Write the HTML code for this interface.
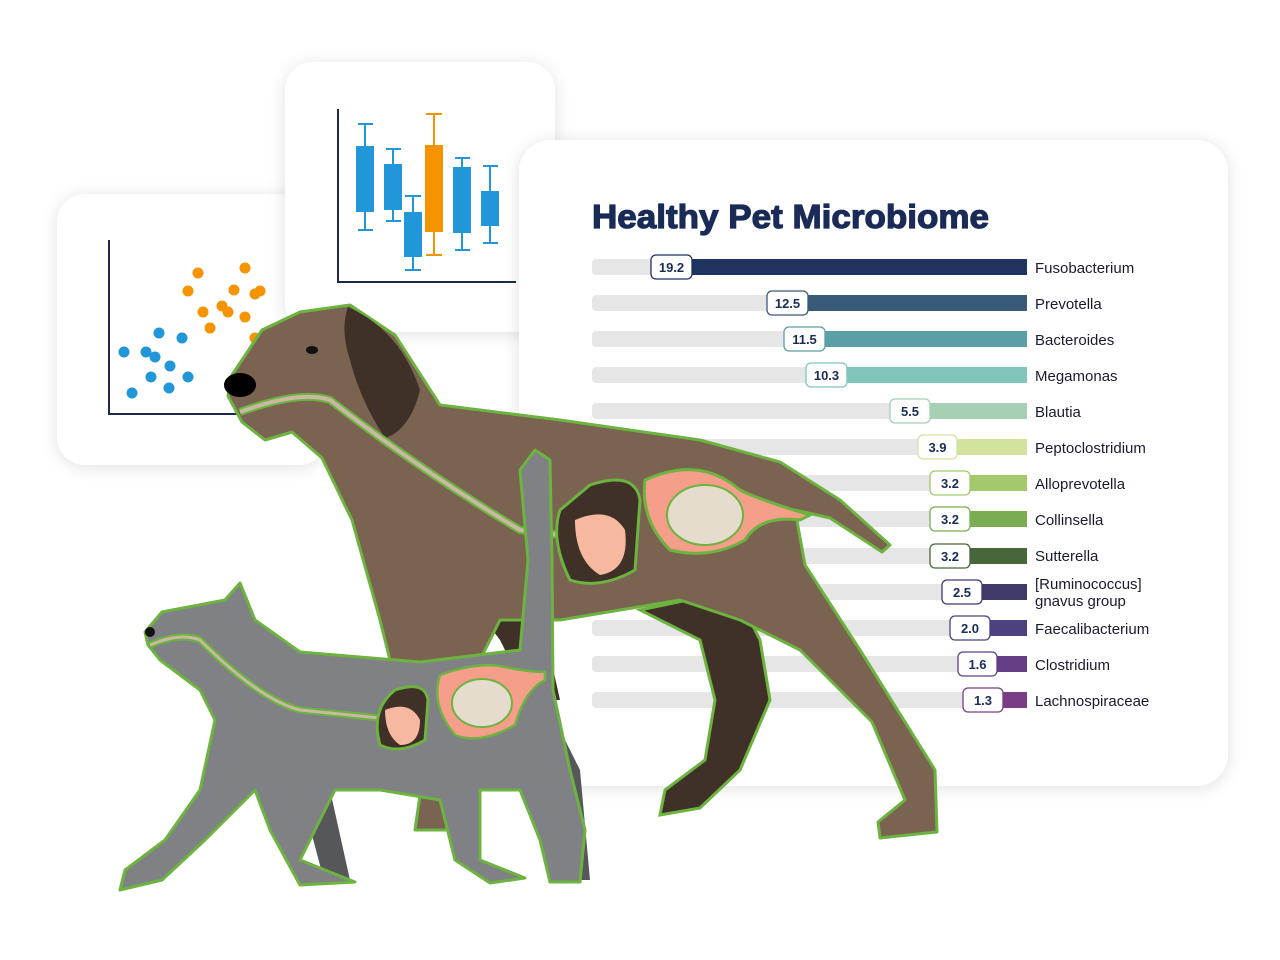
<!DOCTYPE html>
<html><head><meta charset="utf-8"><style>
html,body{margin:0;padding:0;background:#fff;}
svg{display:block;font-family:"Liberation Sans",sans-serif;}
</style></head><body>
<svg width="1280" height="960" viewBox="0 0 1280 960" xmlns="http://www.w3.org/2000/svg">
<defs>
<filter id="sh" x="-10%" y="-10%" width="120%" height="120%"><feDropShadow dx="0" dy="2" stdDeviation="8" flood-color="#000" flood-opacity="0.12"/></filter>
</defs>
<rect width="1280" height="960" fill="#fff"/>
<!-- scatter card -->
<rect x="57" y="194" width="270" height="271" rx="28" fill="#fff" filter="url(#sh)"/>
<path d="M109 240 V414 H240" stroke="#1b2a4a" stroke-width="2" fill="none"/>
<g fill="#2196d8">
<circle cx="124" cy="352" r="5.5"/><circle cx="146" cy="352" r="5.5"/><circle cx="155" cy="357" r="5.5"/><circle cx="159" cy="333" r="5.5"/><circle cx="182" cy="338" r="5.5"/><circle cx="170" cy="366" r="5.5"/><circle cx="151" cy="377" r="5.5"/><circle cx="188" cy="377" r="5.5"/><circle cx="132" cy="393" r="5.5"/><circle cx="169" cy="388" r="5.5"/></g>
<g fill="#f59300">
<circle cx="198" cy="273" r="5.5"/><circle cx="245" cy="268" r="5.5"/><circle cx="188" cy="291" r="5.5"/><circle cx="234" cy="290" r="5.5"/><circle cx="255" cy="294" r="5.5"/><circle cx="260" cy="291" r="5.5"/><circle cx="203" cy="312" r="5.5"/><circle cx="222" cy="306" r="5.5"/><circle cx="228" cy="312" r="5.5"/><circle cx="245" cy="317" r="5.5"/><circle cx="210" cy="328" r="5.5"/><circle cx="255" cy="338" r="5.5"/></g>
<!-- box card -->
<rect x="285" y="62" width="270" height="270" rx="28" fill="#fff" filter="url(#sh)"/>
<path d="M338 109 V282 H516" stroke="#1b2a4a" stroke-width="2" fill="none"/>
<g stroke="#2196d8" stroke-width="2" fill="#2196d8">
<path d="M365 124 V230 M358 124 H373 M358 230 H373"/><rect x="357" y="147" width="16" height="64"/>
<path d="M393 149 V221 M386 149 H401 M386 221 H401"/><rect x="385" y="165" width="16" height="44"/>
<path d="M413 196 V270 M405 196 H421 M405 270 H421"/><rect x="405" y="213" width="16" height="43"/>
<path d="M462 158 V250 M455 158 H470 M455 250 H470"/><rect x="454" y="168" width="16" height="64"/>
<path d="M490 166 V243 M483 166 H498 M483 243 H498"/><rect x="482" y="192" width="16" height="33"/>
</g>
<g stroke="#f59300" stroke-width="2" fill="#f59300"><path d="M434 114 V255 M426 114 H442 M426 255 H442"/><rect x="426" y="146" width="16" height="85"/></g>
<!-- main card -->
<rect x="519" y="140" width="709" height="646" rx="32" fill="#fff" filter="url(#sh)"/>
<text x="592" y="228" font-size="33" font-weight="bold" fill="#1a2b57" stroke="#1a2b57" stroke-width="1.2" textLength="397" lengthAdjust="spacingAndGlyphs">Healthy Pet Microbiome</text>
<g>
<rect x="592" y="259" width="435" height="16" rx="4" fill="#e6e6e6"/><rect x="692" y="259" width="335" height="16" fill="#1f3360"/>
<rect x="651" y="255" width="41" height="24" rx="5" fill="#fff" stroke="#1f3360" stroke-width="1.3"/><text x="671.5" y="272" font-size="13" font-weight="bold" fill="#1a2b57" text-anchor="middle">19.2</text><text x="1035" y="273" font-size="15" fill="#1a1a2e">Fusobacterium</text>

<rect x="592" y="295" width="435" height="16" rx="4" fill="#e6e6e6"/><rect x="808" y="295" width="219" height="16" fill="#3a5b78"/>
<rect x="767" y="291" width="41" height="24" rx="5" fill="#fff" stroke="#3a5b78" stroke-width="1.3"/><text x="787.5" y="308" font-size="13" font-weight="bold" fill="#1a2b57" text-anchor="middle">12.5</text><text x="1035" y="309" font-size="15" fill="#1a1a2e">Prevotella</text>

<rect x="592" y="331" width="435" height="16" rx="4" fill="#e6e6e6"/><rect x="825" y="331" width="202" height="16" fill="#5a9ea6"/>
<rect x="784" y="327" width="41" height="24" rx="5" fill="#fff" stroke="#5a9ea6" stroke-width="1.3"/><text x="804.5" y="344" font-size="13" font-weight="bold" fill="#1a2b57" text-anchor="middle">11.5</text><text x="1035" y="345" font-size="15" fill="#1a1a2e">Bacteroides</text>

<rect x="592" y="367" width="435" height="16" rx="4" fill="#e6e6e6"/><rect x="847" y="367" width="180" height="16" fill="#80c4bc"/>
<rect x="806" y="363" width="41" height="24" rx="5" fill="#fff" stroke="#80c4bc" stroke-width="1.3"/><text x="826.5" y="380" font-size="13" font-weight="bold" fill="#1a2b57" text-anchor="middle">10.3</text><text x="1035" y="381" font-size="15" fill="#1a1a2e">Megamonas</text>

<rect x="592" y="403" width="435" height="16" rx="4" fill="#e6e6e6"/><rect x="930" y="403" width="97" height="16" fill="#a7cfb4"/>
<rect x="890" y="399" width="40" height="24" rx="5" fill="#fff" stroke="#a7cfb4" stroke-width="1.3"/><text x="910" y="416" font-size="13" font-weight="bold" fill="#1a2b57" text-anchor="middle">5.5</text><text x="1035" y="417" font-size="15" fill="#1a1a2e">Blautia</text>

<rect x="592" y="439" width="435" height="16" rx="4" fill="#e6e6e6"/><rect x="957" y="439" width="70" height="16" fill="#d2e3a0"/>
<rect x="918" y="435" width="39" height="24" rx="5" fill="#fff" stroke="#d2e3a0" stroke-width="1.3"/><text x="937.5" y="452" font-size="13" font-weight="bold" fill="#1a2b57" text-anchor="middle">3.9</text><text x="1035" y="453" font-size="15" fill="#1a1a2e">Peptoclostridium</text>

<rect x="592" y="475" width="435" height="16" rx="4" fill="#e6e6e6"/><rect x="970" y="475" width="57" height="16" fill="#a3c96a"/>
<rect x="930" y="471" width="40" height="24" rx="5" fill="#fff" stroke="#a3c96a" stroke-width="1.3"/><text x="950" y="488" font-size="13" font-weight="bold" fill="#1a2b57" text-anchor="middle">3.2</text><text x="1035" y="489" font-size="15" fill="#1a1a2e">Alloprevotella</text>

<rect x="592" y="511" width="435" height="16" rx="4" fill="#e6e6e6"/><rect x="970" y="511" width="57" height="16" fill="#7aad52"/>
<rect x="930" y="507" width="40" height="24" rx="5" fill="#fff" stroke="#7aad52" stroke-width="1.3"/><text x="950" y="524" font-size="13" font-weight="bold" fill="#1a2b57" text-anchor="middle">3.2</text><text x="1035" y="525" font-size="15" fill="#1a1a2e">Collinsella</text>

<rect x="592" y="548" width="435" height="16" rx="4" fill="#e6e6e6"/><rect x="970" y="548" width="57" height="16" fill="#47673a"/>
<rect x="930" y="544" width="40" height="24" rx="5" fill="#fff" stroke="#47673a" stroke-width="1.3"/><text x="950" y="561" font-size="13" font-weight="bold" fill="#1a2b57" text-anchor="middle">3.2</text><text x="1035" y="561" font-size="15" fill="#1a1a2e">Sutterella</text>

<rect x="592" y="584" width="435" height="16" rx="4" fill="#e6e6e6"/><rect x="982" y="584" width="45" height="16" fill="#3e3a6c"/>
<rect x="942" y="580" width="40" height="24" rx="5" fill="#fff" stroke="#3e3a6c" stroke-width="1.3"/><text x="962" y="597" font-size="13" font-weight="bold" fill="#1a2b57" text-anchor="middle">2.5</text><text x="1035" y="589" font-size="15" fill="#1a1a2e">[Ruminococcus]</text><text x="1035" y="606" font-size="15" fill="#1a1a2e">gnavus group</text>

<rect x="592" y="620" width="435" height="16" rx="4" fill="#e6e6e6"/><rect x="990" y="620" width="37" height="16" fill="#4d4180"/>
<rect x="950" y="616" width="40" height="24" rx="5" fill="#fff" stroke="#4d4180" stroke-width="1.3"/><text x="970" y="633" font-size="13" font-weight="bold" fill="#1a2b57" text-anchor="middle">2.0</text><text x="1035" y="634" font-size="15" fill="#1a1a2e">Faecalibacterium</text>

<rect x="592" y="656" width="435" height="16" rx="4" fill="#e6e6e6"/><rect x="997" y="656" width="30" height="16" fill="#643f85"/>
<rect x="958" y="652" width="39" height="24" rx="5" fill="#fff" stroke="#643f85" stroke-width="1.3"/><text x="977.5" y="669" font-size="13" font-weight="bold" fill="#1a2b57" text-anchor="middle">1.6</text><text x="1035" y="670" font-size="15" fill="#1a1a2e">Clostridium</text>

<rect x="592" y="692" width="435" height="16" rx="4" fill="#e6e6e6"/><rect x="1003" y="692" width="24" height="16" fill="#7a3c85"/>
<rect x="963" y="688" width="40" height="24" rx="5" fill="#fff" stroke="#7a3c85" stroke-width="1.3"/><text x="983" y="705" font-size="13" font-weight="bold" fill="#1a2b57" text-anchor="middle">1.3</text><text x="1035" y="706" font-size="15" fill="#1a1a2e">Lachnospiraceae</text>
</g>
<!-- dog back legs (dark) -->
<path d="M640 610 L735 590 L760 640 L770 700 L740 770 L700 808 L660 815 L665 790 L705 760 L715 700 L700 640 Z" fill="#3f3127" stroke="#6cb33f" stroke-width="3"/>
<path d="M470 600 L540 610 L560 700 L530 700 L500 640 Z" fill="#3f3127"/>
<!-- dog body -->
<path d="M230 378 L262 330 L300 312 L350 305 L395 335 L440 405 L560 420 L700 440 L780 462 L840 500 L890 545 L882 552 L830 518 L795 510 L805 565 L860 650 L935 770 L937 832 L880 838 L878 822 L905 800 L872 722 L800 650 L740 620 L680 600 L620 610 L560 620 L500 620 L460 700 L470 800 L458 830 L415 830 L420 795 L400 700 L380 620 L352 520 L322 458 L292 432 L265 440 L242 422 L228 396 Z" fill="#7a6351" stroke="#6cb33f" stroke-width="3" stroke-linejoin="round"/>
<path d="M348 307 Q400 330 420 390 Q410 430 385 438 Q360 400 350 360 Q340 330 348 307 Z" fill="#3f3127"/>
<ellipse cx="312" cy="350" rx="6" ry="4" fill="#111"/>
<ellipse cx="240" cy="385" rx="16" ry="12" fill="#000"/>
<path d="M240 412 Q300 390 330 400 Q420 470 520 530 L560 535" stroke="#6cb33f" stroke-width="8" fill="none"/>
<path d="M240 412 Q300 390 330 400 Q420 470 520 530 L560 535" stroke="#c9b9a3" stroke-width="4" fill="none"/>
<path d="M590 485 Q635 470 640 500 L635 570 Q600 590 570 580 Q550 540 560 510 Z" fill="#3f3127" stroke="#6cb33f" stroke-width="3"/>
<path d="M575 520 Q610 505 625 530 Q630 570 600 575 Q575 560 575 520 Z" fill="#f7b8a0"/>
<path d="M645 480 Q700 455 740 490 Q760 500 810 515 L800 520 Q760 515 745 540 Q710 560 670 550 Q640 520 645 480 Z" fill="#f59e8a" stroke="#6cb33f" stroke-width="3"/>
<ellipse cx="705" cy="515" rx="38" ry="30" fill="#e6dccd" stroke="#6cb33f" stroke-width="2"/>
<!-- cat -->
<path d="M300 790 L330 790 L350 880 L325 884 Z" fill="#55575a"/>
<path d="M545 700 L580 770 L590 880 L555 880 L550 800 Z" fill="#55575a"/>
<path d="M145 632 L162 612 L225 600 L240 583 L255 620 L300 652 L420 662 L520 650 L528 560 L520 470 L535 450 L550 460 L552 560 L553 690 L570 770 L585 830 L580 882 L550 882 L540 840 L520 790 L480 790 L480 860 L525 878 L490 883 L455 860 L440 800 L380 790 L335 790 L300 860 L355 882 L300 885 L270 830 L255 790 L205 840 L162 880 L120 890 L125 870 L165 840 L200 790 L215 720 L200 690 L160 660 L148 645 Z" fill="#808184" stroke="#6cb33f" stroke-width="3" stroke-linejoin="round"/>
<ellipse cx="150" cy="632" rx="5" ry="5" fill="#111"/>
<path d="M150 645 Q180 632 200 640 Q260 700 300 710 L400 720" stroke="#6cb33f" stroke-width="7" fill="none"/>
<path d="M150 645 Q180 632 200 640 Q260 700 300 710 L400 720" stroke="#c9b9a3" stroke-width="3" fill="none"/>
<path d="M395 690 Q425 680 428 700 L425 740 Q400 755 380 745 Q370 710 395 690 Z" fill="#3f3127" stroke="#6cb33f" stroke-width="3"/>
<path d="M385 710 Q410 700 420 720 Q420 745 400 745 Q385 735 385 710 Z" fill="#f7b8a0"/>
<path d="M440 675 Q480 660 510 668 Q530 672 545 672 L545 680 Q525 690 515 725 Q480 745 455 735 Q430 705 440 675 Z" fill="#f59e8a" stroke="#6cb33f" stroke-width="2.5"/>
<ellipse cx="482" cy="703" rx="30" ry="24" fill="#e6dccd" stroke="#6cb33f" stroke-width="2"/>
</svg>
</body></html>
